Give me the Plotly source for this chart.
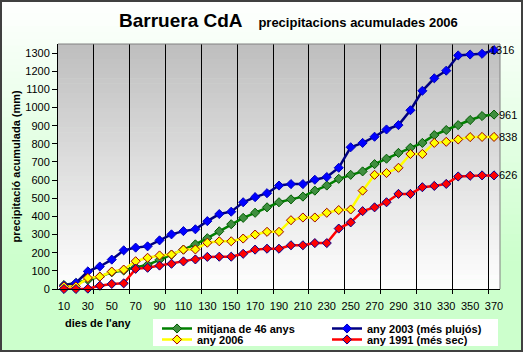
import plotly.graph_objects as go

# ---------------- data ----------------
days = [10, 20, 30, 40, 50, 60, 70, 80, 90, 100, 110, 120, 130, 140, 150, 160, 170, 180, 190,
        200, 210, 220, 230, 240, 250, 260, 270, 280, 290, 300, 310, 320, 330, 340, 350, 360, 370]
tick_days = [10, 30, 50, 70, 90, 110, 130, 150, 170, 190, 210, 230, 250, 270, 290, 310, 330, 350, 370]
grid_days = [35, 65, 95, 125, 155, 185, 215, 245, 275, 305, 335, 365]
y_ticks = [0, 100, 200, 300, 400, 500, 600, 700, 800, 900, 1000, 1100, 1200, 1300]

mitjana = [22, 33, 50, 68, 92, 102, 120, 133, 161, 189, 217, 246, 280, 318, 357, 392, 420, 450, 478,
           494, 509, 542, 570, 607, 629, 648, 688, 718, 750, 778, 805, 848, 876, 903, 931, 953, 961]
any2003 = [18, 33, 97, 124, 162, 213, 228, 235, 268, 301, 319, 329, 374, 413, 426, 478, 506, 528, 570,
           578, 578, 602, 617, 668, 781, 805, 839, 879, 903, 985, 1092, 1161, 1203, 1287, 1292, 1296, 1316]
any2006 = [14, 14, 61, 68, 96, 107, 153, 172, 185, 190, 217, 218, 255, 263, 263, 278, 300, 315, 315,
           379, 394, 394, 420, 435, 438, 542, 629, 639, 668, 744, 744, 805, 811, 824, 837, 838, 838]
any1991 = [0, 0, 2, 18, 28, 31, 111, 117, 129, 139, 152, 163, 177, 178, 178, 194, 217, 222, 222,
           241, 241, 253, 253, 333, 367, 429, 450, 478, 524, 524, 561, 568, 579, 620, 624, 626, 626]

names = ["mitjana de 46 anys", "any 2003 (més plujós)", "any 2006", "any 1991 (més sec)"]

# ---------------- layout geometry ----------------
W0, H0 = 523, 352
L, R, T, B = 58, 23, 44, 63
PW = W0 - L - R
PH = H0 - T - B


def px(xp):
    return (xp - L) / PW


def py(yp):
    return (T + PH - yp) / PH


def mix(c1, c2, f):
    return "rgb(%d,%d,%d)" % tuple(round(a + (b - a) * f) for a, b in zip(c1, c2))


FONT = "Arial, Liberation Sans, sans-serif"

series = [
    (names[0], mitjana, "#008000", "#3f8f3f", "#005a00", "legend"),
    (names[1], any2003, "#000080", "#0000ff", "#0000c0", "legend2"),
    (names[2], any2006, "#ffff00", "#ffff00", "#a00000", "legend3"),
    (names[3], any1991, "#ff0000", "#ff0000", "#000090", "legend4"),
]

fig = go.Figure()
for name, vals, lc, mc, me, lg in series:
    fig.add_trace(go.Scatter(
        x=days, y=vals, name=name, mode="lines+markers", legend=lg,
        line=dict(color=lc, width=2.5),
        marker=dict(symbol="diamond", size=7, color=mc, line=dict(color=me, width=1)),
        cliponaxis=False,
    ))

shapes = []
# paper gradient (white top -> light green)
nb = 40
g_top, g_bot = 0, 260
for i in range(nb):
    y0 = g_top + (g_bot - g_top) * i / nb
    y1 = g_top + (g_bot - g_top) * (i + 1) / nb + 0.5
    shapes.append(dict(type="rect", xref="paper", yref="paper", layer="below",
                       x0=-1, x1=2, y0=py(y1), y1=py(y0), line=dict(width=0),
                       fillcolor=mix((255, 255, 255), (204, 255, 204), (i + 0.5) / nb)))
# plot area gradient (gray top -> white bottom)
nb2 = 50
for i in range(nb2):
    shapes.append(dict(type="rect", xref="x domain", yref="y domain", layer="below",
                       x0=0, x1=1, y0=1 - (i + 1) / nb2 - 0.002, y1=1 - i / nb2,
                       line=dict(width=0),
                       fillcolor=mix((190, 190, 190), (255, 255, 255), (i + 0.5) / nb2)))
# legend box
shapes.append(dict(type="rect", xref="paper", yref="paper", layer="below",
                   x0=px(153), x1=px(498), y0=py(346), y1=py(319),
                   line=dict(width=0), fillcolor="white"))
# gray top / right border of plot area
shapes.append(dict(type="line", xref="x domain", yref="y domain", x0=0, x1=1, y0=1, y1=1,
                   line=dict(color="#808080", width=1)))
shapes.append(dict(type="line", xref="x domain", yref="y domain", x0=1, x1=1, y0=0, y1=1,
                   line=dict(color="#808080", width=1)))
# outer chart border
shapes.append(dict(type="rect", xref="paper", yref="paper", layer="above",
                   x0=px(1), x1=px(522), y0=py(351), y1=py(1),
                   line=dict(color="#404040", width=2), fillcolor="rgba(0,0,0,0)"))

annotations = [
    dict(xref="paper", yref="paper", x=px(117), y=py(21), xanchor="left", yanchor="middle",
         showarrow=False,
         text="<b>Barruera CdA</b>&nbsp;&nbsp;&nbsp;<span style='font-size:13px'><b>precipitacions acumulades 2006</b></span>",
         font=dict(family=FONT, size=19, color="black")),
    dict(xref="paper", yref="paper", x=px(15), y=0.5, xanchor="center", yanchor="middle",
         showarrow=False, textangle=-90, text="<b>precipitació acumulada (mm)</b>",
         font=dict(family=FONT, size=11, color="black")),
    dict(xref="paper", yref="paper", x=px(63), y=py(322.5), xanchor="left", yanchor="middle",
         showarrow=False, text="<b>dies de l'any</b>",
         font=dict(family=FONT, size=11, color="black")),
]
# end-of-series value labels
for name, vals, lc, mc, me, lg in series:
    big = vals[-1] > 1000
    annotations.append(dict(
        x=days[-1], y=vals[-1], xref="x", yref="y", showarrow=False,
        text=str(vals[-1]), xanchor="right" if big else "left", yanchor="middle",
        xshift=22 if big else 3,
        font=dict(family=FONT, size=11, color="black")))

leg_common = dict(bgcolor="rgba(0,0,0,0)", borderwidth=0, orientation="v",
                  xanchor="left", yanchor="middle",
                  font=dict(family=FONT, size=11, color="black", weight="bold"))

fig.update_layout(
    width=W0, height=H0,
    margin=dict(l=L, r=R, t=T, b=B, pad=0, autoexpand=False),
    paper_bgcolor="#ccffcc",
    plot_bgcolor="rgba(0,0,0,0)",
    showlegend=True,
    legend=dict(x=px(157), y=py(328.5), **leg_common),
    legend2=dict(x=px(327), y=py(328.5), **leg_common),
    legend3=dict(x=px(157), y=py(339.5), **leg_common),
    legend4=dict(x=px(327), y=py(339.5), **leg_common),
    xaxis=dict(
        range=[5, 375], tickmode="array", tickvals=tick_days,
        ticktext=[str(d) for d in tick_days],
        ticks="outside", ticklen=7, tickcolor="rgba(0,0,0,0)",
        showgrid=False, zeroline=False, automargin=False,
        showline=True, linecolor="black", linewidth=1,
        tickfont=dict(family=FONT, size=11, color="black"),
        minor=dict(tickmode="array", tickvals=grid_days, showgrid=True,
                   gridcolor="black", gridwidth=1, ticks="outside", ticklen=4,
                   tickcolor="black", tickwidth=1),
        fixedrange=True,
    ),
    yaxis=dict(
        range=[0, 1350], tickmode="array", tickvals=y_ticks,
        ticks="outside", ticklen=5, tickcolor="black",
        showgrid=False, zeroline=False, automargin=False,
        showline=True, linecolor="black", linewidth=1,
        tickfont=dict(family=FONT, size=11, color="black"),
        fixedrange=True,
    ),
    shapes=shapes,
    annotations=annotations,
)

fig.write_html("out.html")
